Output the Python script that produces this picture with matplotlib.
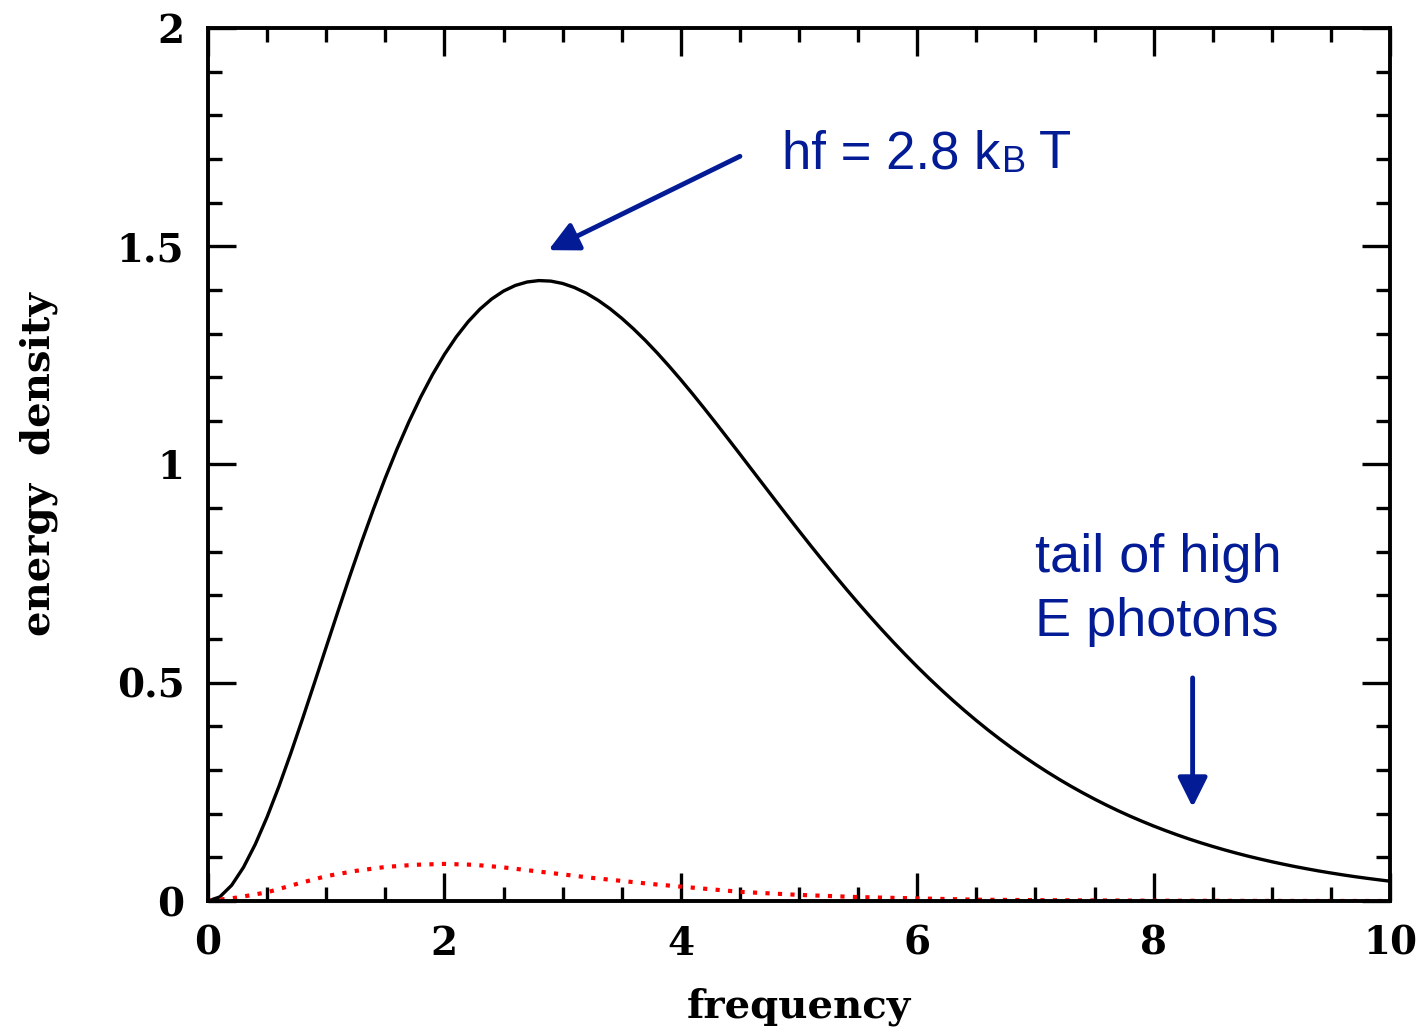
import matplotlib as mpl
import numpy as np
import matplotlib.pyplot as plt

# values (black curve every 0.1)
freq = [round(0.1 * i, 1) for i in range(101)]
energy = [0.0, 0.0095, 0.0361, 0.0772, 0.1301, 0.1927, 0.2627, 0.3384,
          0.4178, 0.4995, 0.5820, 0.6641, 0.7448, 0.8231, 0.8981, 0.9694,
          1.0362, 1.0981, 1.1549, 1.2063, 1.2521, 1.2923, 1.3269, 1.3558,
          1.3792, 1.3973, 1.4102, 1.4181, 1.4213, 1.4201, 1.4147, 1.4054,
          1.3925, 1.3762, 1.3570, 1.3350, 1.3106, 1.2841, 1.2556, 1.2255,
          1.1941, 1.1615, 1.1279, 1.0936, 1.0588, 1.0237, 0.9883, 0.9530,
          0.9177, 0.8827, 0.8480, 0.8137, 0.7800, 0.7469, 0.7144, 0.6827,
          0.6518, 0.6217, 0.5925, 0.5642, 0.5367, 0.5102, 0.4847, 0.4600,
          0.4363, 0.4135, 0.3916, 0.3707, 0.3506, 0.3314, 0.3131, 0.2956,
          0.2789, 0.2630, 0.2479, 0.2335, 0.2198, 0.2068, 0.1945, 0.1829,
          0.1718, 0.1614, 0.1515, 0.1421, 0.1333, 0.1250, 0.1171, 0.1097,
          0.1027, 0.0962, 0.0900, 0.0842, 0.0787, 0.0736, 0.0687, 0.0642,
          0.0599, 0.0559, 0.0522, 0.0487, 0.0454]

freq_low = [0.0, 0.25, 0.5, 0.75, 1.0, 1.25, 1.5, 1.75, 2.0, 2.25, 2.5, 2.75,
            3.0, 3.25, 3.5, 3.75, 4.0, 4.5, 5.0, 5.5, 6.0, 6.5, 7.0, 8.0,
            9.0, 10.0]
energy_low = [0.0, 0.008, 0.020, 0.039, 0.057, 0.069, 0.078, 0.083, 0.085,
              0.083, 0.077, 0.069, 0.061, 0.053, 0.046, 0.039, 0.033, 0.021,
              0.014, 0.009, 0.006, 0.003, 0.002, 0.0007, 0.0002, 0.0]

blue = '#031c96'

fig = plt.figure(figsize=(14.22, 10.36), dpi=100)
ax = fig.add_axes([0.1463, 0.1303, 0.8312, 0.8427])

ax.plot(freq, energy, color='k', lw=2.4)
ax.plot(freq_low, energy_low, color='red', lw=3, linestyle=(0, (1, 2)))

ax.set_xlim(0, 10)
ax.set_ylim(0, 2)
ax.set_xticks([0, 2, 4, 6, 8, 10])
ax.set_xticks(np.arange(0, 10.01, 0.5), minor=True)
ax.set_yticks([0, 0.5, 1, 1.5, 2])
ax.set_yticklabels(['0', '0.5', '1', '1.5', '2'])
ax.set_yticks(np.arange(0, 2.01, 0.1), minor=True)

ax.tick_params(which='both', direction='in', top=True, right=True, width=2.4)
ax.tick_params(which='major', length=20, pad=17)
ax.tick_params(which='minor', length=10)
for s in ax.spines.values():
    s.set_linewidth(2.8)

for lab in ax.get_xticklabels() + ax.get_yticklabels():
    lab.set_family('DejaVu Serif')
    lab.set_fontweight('bold')
    lab.set_fontsize(28)

ax.set_xlabel('frequency', family='DejaVu Serif', fontweight='bold',
              fontsize=29, labelpad=18)
ax.set_ylabel('energy  density', family='DejaVu Serif', fontweight='bold',
              fontsize=29, labelpad=42)

# annotations
ax.annotate('', xy=(2.88, 1.491), xytext=(4.50, 1.706),
            arrowprops=dict(arrowstyle='-|>', color=blue, lw=3.5,
                            mutation_scale=45, shrinkA=0, shrinkB=0))
t1 = ax.text(4.86, 1.679, 'hf = 2.8 k', color=blue,
             family='Liberation Sans', fontsize=38, va='baseline', ha='left')
t2 = ax.annotate('B', xy=(1, 0), xycoords=t1, xytext=(1, 5),
                 textcoords='offset points', color=blue,
                 family='Liberation Sans', fontsize=26, va='baseline')
ax.annotate('T', xy=(1, 0), xycoords=(t2, t1), xytext=(9, 0),
            textcoords='offset points', color=blue,
            family='Liberation Sans', fontsize=38, va='bottom')

ax.annotate('', xy=(8.33, 0.215), xytext=(8.33, 0.511),
            arrowprops=dict(arrowstyle='-|>', color=blue, lw=3.5,
                            mutation_scale=45, shrinkA=0, shrinkB=0))
ax.text(7.0, 0.754, 'tail of high', color=blue, family='Liberation Sans',
        fontsize=39, va='baseline', ha='left')
ax.text(7.0, 0.607, 'E photons', color=blue, family='Liberation Sans',
        fontsize=39, va='baseline', ha='left')

fig.savefig('out.png', dpi=100)
